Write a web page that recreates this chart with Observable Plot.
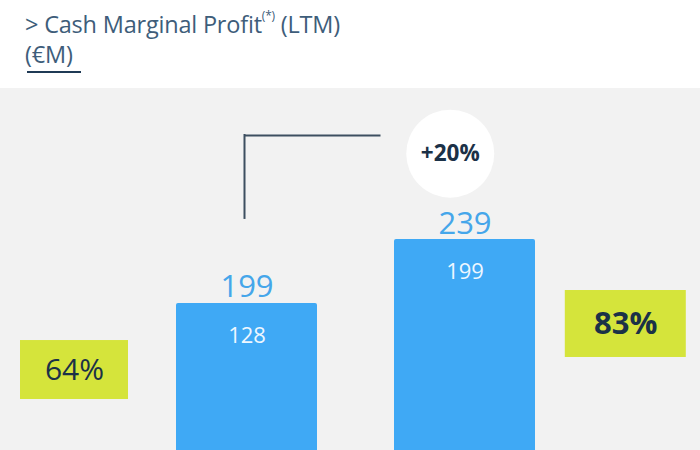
<!DOCTYPE html>
<html>
<head>
<meta charset="utf-8">
<script src="https://cdn.jsdelivr.net/npm/d3@7"></script>
<script src="https://cdn.jsdelivr.net/npm/@observablehq/plot@0.6"></script>
<style>
  html, body { margin: 0; padding: 0; background: #ffffff; overflow: hidden; width: 700px; height: 450px; }
  #header { position: relative; height: 88px; background: #ffffff; font-family: "Open Sans", sans-serif; color: #3e5d7a; }
  #title { position: absolute; left: 25px; top: 5px; font-size: 23.5px; line-height: 30px; letter-spacing: -0.2px; }
  #title sup { font-size: 12px; position: relative; top: -4px; }
  #rule { position: absolute; left: 27px; top: 71px; width: 54px; height: 2px; background: #1f3a55; }
  #chart svg { display: block; }
</style>
</head>
<body>
<div id="header">
  <div id="title">&gt; Cash Marginal Profit<sup>(*)</sup> (LTM)<br>(€M)</div>
  <div id="rule"></div>
</div>
<div id="chart"></div>
<script>
// ---- data ----
const periods = ["Previous LTM", "Current LTM"];
const totals = [199, 239];
const innerValues = [128, 199];
const marginLabels = ["64%", "83%"];
const growthLabel = "+20%";

// ---- layout / style (not data) ----
const barColor = "#3fa9f5";
const labelColor = "#45a6ea";
const boxColor = "#d5e43b";
const darkText = "#1b3147";
const bracketColor = "#3d4f60";
// margin boxes: y extents in value units, horizontal offset from bar centre, inset, text style
const boxLayout = [
  {y1: 138.9, y2: 175.8, yText: 157.4, dx: -172.5, inset: 16.5, weight: "normal", size: 30},
  {y1: 165.2, y2: 207.1, yText: 186.2, dx: 160.8, inset: 10, weight: "bold", size: 31}
];
const bracketLayout = {yLow: 252.2, yHigh: 304.1, dx: -2.5, insetLeft: 68, insetRight: 154.5};
const bubbleLayout = {y: 292.7, dx: -14.75, r: 44};

const rows = periods.map((p, i) => ({period: p, total: totals[i], inner: innerValues[i]}));
const boxes = periods.map((p, i) => ({period: p, label: marginLabels[i], ...boxLayout[i]}));

const boxMarks = boxes.flatMap((b) => [
  Plot.barY([b], {x: "period", y1: "y1", y2: "y2", fill: boxColor, dx: b.dx, insetLeft: b.inset, insetRight: b.inset}),
  Plot.text([b], {x: "period", y: "yText", text: "label", dx: b.dx, fill: darkText, fontSize: b.size, fontWeight: b.weight, lineAnchor: "middle"})
]);

const plot = Plot.plot({
  width: 700,
  height: 362,
  marginTop: 0, marginBottom: 0, marginLeft: 0, marginRight: 0,
  style: {background: "#f2f2f2", fontFamily: "Open Sans, sans-serif"},
  x: {type: "band", domain: periods, range: [176, 535.5], paddingInner: 0.353, paddingOuter: 0, axis: null},
  y: {domain: [0, 333.5], range: [533, 0], axis: null},
  marks: [
    Plot.barY(rows, {x: "period", y: "total", fill: barColor, rx: 2, clip: true}),
    Plot.text(rows, {x: "period", y: "total", text: (d) => String(d.total), lineAnchor: "bottom", dy: -6, fontSize: 31, fill: labelColor}),
    Plot.text(rows, {x: "period", y: "total", text: (d) => String(d.inner), lineAnchor: "middle", dy: 32, fontSize: 22, fill: "#eef7ff"}),
    ...boxMarks,
    Plot.ruleX([periods[0]], {x: (d) => d, y1: bracketLayout.yLow, y2: bracketLayout.yHigh, dx: bracketLayout.dx, stroke: bracketColor, strokeWidth: 2, strokeLinecap: "square"}),
    Plot.ruleY([bracketLayout.yHigh], {y: (d) => d, x1: () => periods[0], x2: () => periods[1], insetLeft: bracketLayout.insetLeft, insetRight: bracketLayout.insetRight, stroke: bracketColor, strokeWidth: 2}),
    Plot.dot([growthLabel], {x: () => periods[1], y: () => bubbleLayout.y, r: bubbleLayout.r, dx: bubbleLayout.dx, fill: "#ffffff", stroke: null}),
    Plot.text([growthLabel], {x: () => periods[1], y: () => bubbleLayout.y, text: (d) => d, dx: bubbleLayout.dx, fontSize: 22.5, fontWeight: "bold", fill: darkText, lineAnchor: "middle"})
  ]
});
document.getElementById("chart").appendChild(plot);
</script>
</body>
</html>
